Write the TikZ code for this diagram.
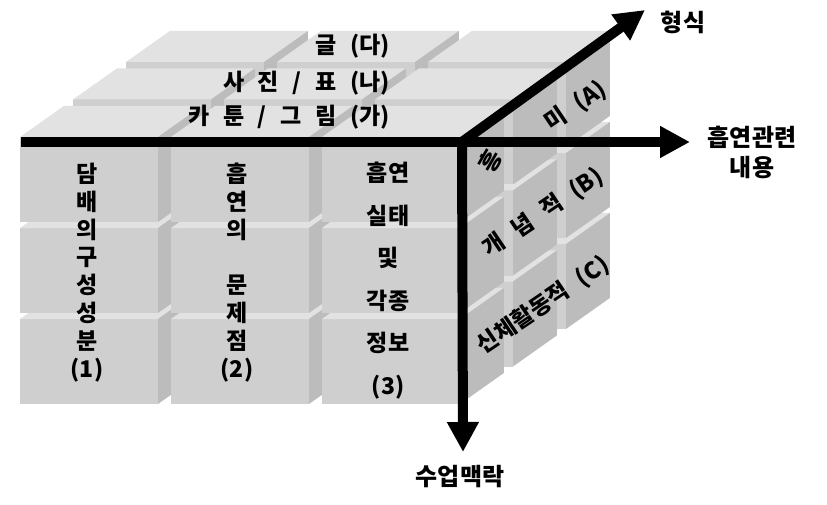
\documentclass[tikz,border=0pt]{standalone}
\usepackage{fontspec}
\setmainfont{Noto Sans CJK KR}
\newfontfamily\krwide{Noto Sans CJK KR}[WordSpace=2.6]
\usetikzlibrary{arrows.meta}
\definecolor{frontc}{HTML}{CFCFCF}
\definecolor{topc}{HTML}{E2E2E2}
\definecolor{sidec}{HTML}{BCBCBC}
\tikzset{
  axisline/.style={line width=10pt, -{Triangle[length=30pt,width=30pt]}},
  axislabel/.style={font=\fontsize{24}{30}\selectfont\bfseries, align=center, inner sep=0pt},
  celltext/.style={font=\fontsize{23}{27.9}\selectfont\bfseries, align=center, inner sep=0pt},
  toptext/.style={font=\krwide\bfseries\fontsize{23}{26}\selectfont, inner sep=0pt, anchor=east},
  sidetext/.style={font=\krwide\bfseries\fontsize{23}{26}\selectfont, inner sep=0pt, rotate=34}
}
\begin{document}
\begin{tikzpicture}[x=1pt,y=-1pt,z={(53pt,37.5pt)}]
\useasboundingbox (0,0) rectangle (827,505);
\foreach \k in {2,1,0}{\foreach \j in {2,1,0}{\foreach \i in {0,1,2}{
  \pgfmathsetmacro\xa{20+151*\i}
  \pgfmathsetmacro\xb{\xa+138}
  \pgfmathsetmacro\ya{137+91*\j}
  \pgfmathsetmacro\yb{\ya+85}
  \pgfmathsetmacro\za{\k}
  \pgfmathsetmacro\zb{\k+0.83}
  \fill[frontc] (\xa,\ya,\za) -- (\xb,\ya,\za) -- (\xb,\yb,\za) -- (\xa,\yb,\za) -- cycle;
  \fill[topc] (\xa,\ya,\za) -- (\xb,\ya,\za) -- (\xb,\ya,\zb) -- (\xa,\ya,\zb) -- cycle;
  \fill[sidec] (\xb,\ya,\za) -- (\xb,\ya,\zb) -- (\xb,\yb,\zb) -- (\xb,\yb,\za) -- cycle;
}}}
% texts on the front face
\node[celltext] (c1) at (87,272.5) {담\\배\\의\\구\\성\\성\\분\\(1)};
\node[celltext] (c2) at (237,272.5) {흡\\연\\의\\[27.9pt]문\\제\\점\\(2)};
\node[celltext, font=\fontsize{23}{42.6}\selectfont\bfseries] (c3) at (388,280.5) {흡연\\실태\\및\\각종\\정보\\(3)};
% texts on the top face
\node[toptext] (t3) at (390,46) {글 (다)};
\node[toptext] (t2) at (390,83) {사 진 / 표 (나)};
\node[toptext] (t1) at (390,117) {카 툰 / 그 림 (가)};
% texts on the right face
\node[sidetext, rotate=26] (sA1) at (490,161) {흥};
\node[sidetext] (sA2) at (576,106) {미 (A)};
\node[sidetext] (sB) at (543,213) {개 념 적 (B)};
\node[sidetext] (sC) at (543,305) {신체활동적 (C)};
% axes
\coordinate (O) at (462,142);
\coordinate (Otop) at (462,137);
\coordinate (L) at (21,142);
\coordinate (R) at (690,142);
\coordinate (D) at (463,452);
\coordinate (U) at (645,10);
\draw[line width=10pt] (L) -- (O);
\draw[axisline] (O) -- (R);
\draw[axisline] (Otop) -- (D);
\draw[axisline] (O) -- (U);
% axis labels
\node[axislabel] (lf) at (683,22) {형식};
\node[axislabel] (lc) at (752,152) {흡연관련\\내용};
\node[axislabel] (lm) at (460,477) {수업맥락};
\end{tikzpicture}
\end{document}
